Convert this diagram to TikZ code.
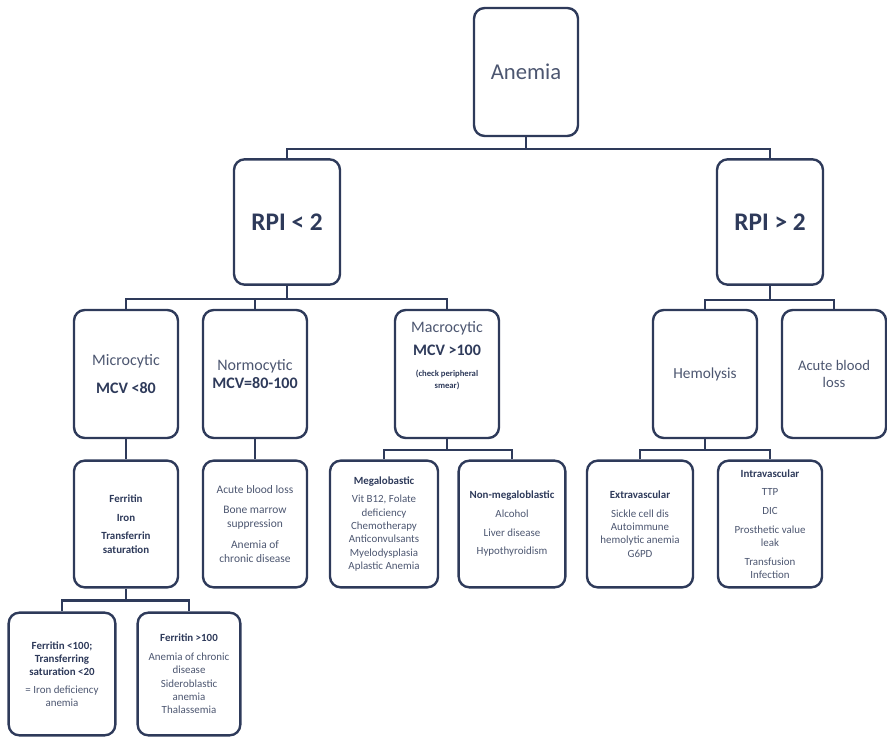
\documentclass[tikz,border=0pt]{standalone}
\usepackage{fontspec}
\setmainfont{Carlito}
\definecolor{boxline}{RGB}{46,58,90}
\definecolor{boxtext}{RGB}{76,86,112}
\tikzset{
  box/.style={draw=boxline, line width=1.8pt, rounded corners=8pt, minimum width=78pt,
    minimum height=96pt, align=center, text=boxtext, inner sep=2pt},
  small/.style={font=\fontsize{8.2}{10}\selectfont},
  conn/.style={draw=boxline, line width=1.6pt},
}
\newcommand{\hd}[1]{{\bfseries\color{boxline}#1}}
\begin{document}
\begin{tikzpicture}[x=0.75pt,y=-0.75pt]
\useasboundingbox (0,0) rectangle (887,737);
% top levels
\node[box, font=\fontsize{17}{20}\selectfont] (anemia) at (526,72) {Anemia};
\node[box, minimum width=79.5pt, minimum height=94pt, font=\bfseries\fontsize{19}{22}\selectfont, text=boxline] (rpilo) at (287,222) {RPI < 2};
\node[box, minimum width=79.5pt, minimum height=94pt, font=\bfseries\fontsize{19}{22}\selectfont, text=boxline] (rpihi) at (770,222) {RPI > 2};
\draw[conn] (anemia.south) -- ++(0,12) -| (rpilo.north);
\draw[conn] (anemia.south) -- ++(0,12) -| (rpihi.north);

% second row
\node[box, font=\fontsize{12}{14}\selectfont] (micro) at (126,374) {Microcytic\\[7pt]\hd{MCV <80}};
\node[box, font=\fontsize{12}{14}\selectfont] (normo) at (255,374) {Normocytic\\\hd{MCV=80-100}};
\node[box, font=\fontsize{12}{14}\selectfont] (macro) at (447,374)
  {Macrocytic\\[3pt]\hd{MCV >100}\\[2pt]{\fontsize{6.5}{8}\selectfont\hd{(check peripheral}}\\[-5pt]{\fontsize{6.5}{8}\selectfont\hd{smear)}}\\[14pt]\mbox{}};
\node[box, font=\fontsize{11.5}{14}\selectfont] (hemo) at (705,374) {Hemolysis};
\node[box, font=\fontsize{11}{13}\selectfont] (acute) at (834,374) {Acute blood\\loss};
\draw[conn] (rpilo.south) -- ++(0,13) -| (micro.north);
\draw[conn] (rpilo.south) -- ++(0,13) -| (normo.north);
\draw[conn] (rpilo.south) -- ++(0,13) -| (macro.north);
\draw[conn] (rpihi.south) -- ++(0,14) -| (hemo.north);
\draw[conn] (rpihi.south) -- ++(0,14) -| (acute.north);

% third row
\node[box, minimum height=95pt, small, text=boxline, font=\bfseries\fontsize{8.2}{10}\selectfont] (ferr) at (126,524)
  {Ferritin\\[4pt]Iron\\[4pt]Transferrin\\saturation};
\node[box, minimum height=95pt, font=\fontsize{8.6}{10.5}\selectfont] (normoc) at (255,524)
  {Acute blood loss\\[5pt]Bone marrow\\suppression\\[5pt]Anemia of\\chronic disease};
\node[box, minimum width=81pt, minimum height=95pt, small] (mega) at (384,524)
  {\hd{Megalobastic}\\[4pt]Vit B12, Folate\\deficiency\\Chemotherapy\\Anticonvulsants\\Myelodysplasia\\Aplastic Anemia};
\node[box, minimum width=80pt, minimum height=95pt, small] (nonmega) at (512,524)
  {\hd{Non-megaloblastic}\\[4pt]Alcohol\\[4pt]Liver disease\\[4pt]Hypothyroidism};
\node[box, minimum width=79.5pt, minimum height=95pt, small] (extra) at (640,524)
  {\hd{Extravascular}\\[4pt]Sickle cell dis\\Autoimmune\\hemolytic anemia\\G6PD};
\node[box, minimum height=95pt, small] (intra) at (770,524)
  {\hd{Intravascular}\\[4pt]TTP\\[4pt]DIC\\[4pt]Prosthetic value\\leak\\[4pt]Transfusion\\Infection};
\draw[conn] (micro.south) -- (ferr.north);
\draw[conn] (normo.south) -- (normoc.north);
\draw[conn] (macro.south) -- ++(0,11) -| (mega.north);
\draw[conn] (macro.south) -- ++(0,11) -| (nonmega.north);
\draw[conn] (hemo.south) -- ++(0,11) -| (extra.north);
\draw[conn] (hemo.south) -- ++(0,11) -| (intra.north);

% fourth row
\node[box, minimum width=80pt, minimum height=92pt, small] (felow) at (62,674)
  {\hd{Ferritin <100;}\\\hd{Transferring}\\\hd{saturation <20}\\[3pt]= Iron deficiency\\anemia};
\node[box, minimum width=77pt, minimum height=92pt, small] (fehigh) at (189,674)
  {\hd{Ferritin >100}\\[4pt]Anemia of chronic\\disease\\Sideroblastic\\anemia\\Thalassemia};
\draw[conn] (ferr.south) -- ++(0,12) -| (felow.north);
\draw[conn] (ferr.south) -- ++(0,12) -| (fehigh.north);
\end{tikzpicture}
\end{document}
